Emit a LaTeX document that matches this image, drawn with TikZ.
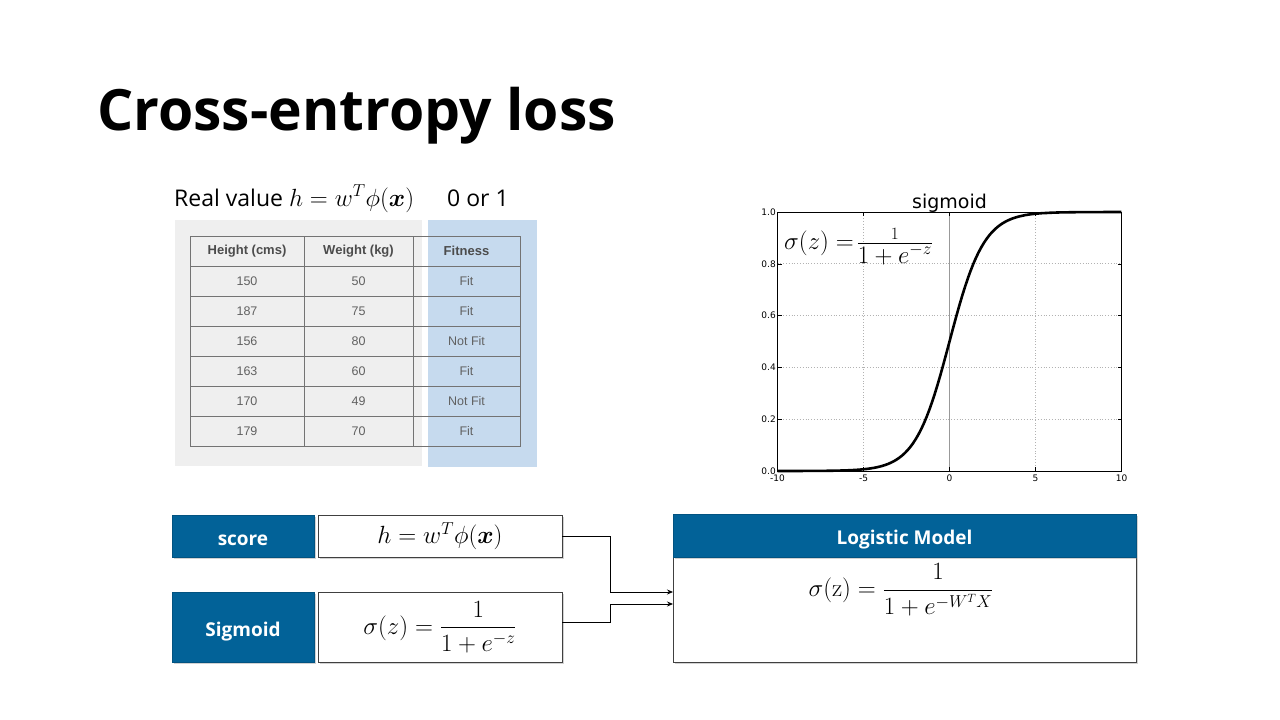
\documentclass[tikz,border=0pt]{standalone}
\usepackage{amsmath}
\usepackage{bm}
\usepackage{fontspec}
\setmainfont{Open Sans}
\setmathrm{Latin Modern Roman}
\newfontfamily\tabfont{Liberation Sans}
\newfontfamily\plotfont{DejaVu Sans}
\usetikzlibrary{arrows.meta, shadows}
\definecolor{hdblue}{RGB}{2,98,152}
\definecolor{tabgray}{RGB}{239,239,239}
\definecolor{fitblue}{RGB}{198,218,238}
\newcommand{\bigmath}[1]{{\fontsize{25}{28}\selectfont$#1$}}
\tikzset{
  shad/.style={drop shadow={shadow xshift=1.8pt, shadow yshift=-1.8pt, opacity=0.35}},
  hd/.style={shad, draw=hdblue!85!black, fill=hdblue, text=white, inner sep=0pt, text height=18pt, text depth=0pt, font=\fontsize{19}{22}\selectfont\bfseries},
  eqbox/.style={shad, draw=black!75, fill=white, inner sep=0pt, font=\fontsize{25}{28}\selectfont},
  cell/.style={inner sep=0pt, text=black!62, font=\tabfont\fontsize{12.5}{14}\selectfont},
  hcell/.style={cell, text=black!70, font=\tabfont\bfseries\fontsize{13}{15}\selectfont},
  tabline/.style={draw=black!55, line width=0.8pt},
  gline/.style={black!30, dotted, line width=0.8pt},
  tlab/.style={inner sep=1.5pt, font=\plotfont\fontsize{9}{10}\selectfont},
  arr/.style={-{Stealth[length=6pt, width=5pt]}, line width=0.8pt}
}
\begin{document}
\begin{tikzpicture}[x=1pt, y=-1pt]
		\fill[white] (0,0) rectangle (1280,720);
		\useasboundingbox (0,0) rectangle (1280,720);
		\node[anchor=base west, inner sep=0pt, font=\fontsize{57}{60}\selectfont\bfseries] (title) at (97,130) {Cross-entropy loss};
		\node[anchor=base west, inner sep=0pt, font=\fontsize{23}{26}\selectfont] (realv) at (174,206) {Real value \bigmath{h = w^T\phi(\bm{x})}};
		\node[anchor=base west, inner sep=0pt, font=\fontsize{23}{26}\selectfont] (binv) at (447,206) {0 or 1};
		\fill[tabgray] (175,220) rectangle (422,466);
		\fill[fitblue] (428,220) rectangle (537,467);
		\draw[tabline] (190,236) rectangle (520,446);
		\foreach \cx in {304,413} \draw[tabline] (\cx,236) -- (\cx,446);
		\foreach \ry in {266,296,...,416} \draw[tabline] (190,\ry) -- (520,\ry);
		\node[hcell] (hh) at (247,251) {Height (cms)};
		\node[hcell] (hw) at (358.5,251) {Weight (kg)};
		\node[hcell] (hf) at (466.5,251) {Fitness};
		\foreach \h/\w/\f [count=\i] in {150/50/Fit,187/75/Fit,156/80/Not Fit,163/60/Fit,170/49/Not Fit,179/70/Fit} {
			\node[cell] (h\i) at (247,251+30*\i) {\h};
			\node[cell] (w\i) at (358.5,251+30*\i) {\w};
			\node[cell] (f\i) at (466.5,251+30*\i) {\f};
		}
		\coordinate (o) at (949.5,471);
		\begin{scope}[shift={(o)}, x=17.2pt, y=259pt]
			\foreach \v in {-5,5} \draw[gline] (\v,0) -- (\v,1);
			\foreach \v in {0.2,0.4,0.6,0.8} \draw[gline] (-10,\v) -- (10,\v);
			\draw[black!40, line width=0.9pt] (0,0) -- (0,1);
			\draw[line width=2.6pt, line join=round] (-10,0.00005) -- plot[domain=-9:10, samples=120] (\x,{1/(1+exp(-\x))});
			\draw[line width=0.6pt] (-10,0) rectangle (10,1);
			\foreach \v/\l [count=\i] in {-10/-10,-5/-5,0/0,5/5,10/10} {
				\draw[line width=0.5pt] (\v,0) -- ++(0,4pt) (\v,1) -- ++(0,-4pt);
				\node[tlab, below, yshift=-2pt] (xt\i) at (\v,0) {\l};
			}
			\foreach \v/\l [count=\i] in {0/0.0,0.2/0.2,0.4/0.4,0.6/0.6,0.8/0.8,1/1.0} {
				\draw[line width=0.5pt] (-10,\v) -- ++(4pt,0) (10,\v) -- ++(-4pt,0);
				\node[tlab, left] (yt\i) at (-10,\v) {\l};
			}
		\end{scope}
		\node[anchor=base, inner sep=0pt, font=\plotfont\fontsize{19}{22}\selectfont] (ptitle) at (949.5,208) {sigmoid};
		\node[anchor=west, inner sep=0pt, font=\fontsize{23}{26}\selectfont] (pform) at (784,247) {$\sigma(z) =\!\frac{\scriptstyle 1}{\textstyle 1+e^{-z}}$};
		\node[hd, minimum width=142, minimum height=42] (score) at (243,536) {score};
		\node[eqbox, minimum width=244, minimum height=42] (scoreeq) at (440,536) {$h = w^T\phi(\bm{x})$};
		\node[hd, minimum width=142, minimum height=70] (sig) at (243,627) {Sigmoid};
		\node[eqbox, minimum width=244, minimum height=70] (sigeq) at (440,627) {$\sigma(z) = \dfrac{1}{1+e^{-z}}$};
		\node[eqbox, minimum width=463, minimum height=105] (lmbody) at (904.5,609.5) {};
		\node[hd, minimum width=463, minimum height=43] (lmhead) at (904.5,535.5) {Logistic Model};
		\node[inner sep=0pt, font=\fontsize{25}{28}\selectfont] (lmeq) at (901,590) {$\sigma(\mathrm{z}) = \dfrac{1}{1+e^{-W^TX}}$};
		\coordinate (in1) at (673,592);
		\coordinate (in2) at (673,604);
		\draw[arr] (scoreeq.east) -- ++(48,0) |- (in1);
		\draw[arr] ([yshift=5pt]sigeq.east) -- ++(48,0) |- (in2);
	\end{tikzpicture}
\end{document}
